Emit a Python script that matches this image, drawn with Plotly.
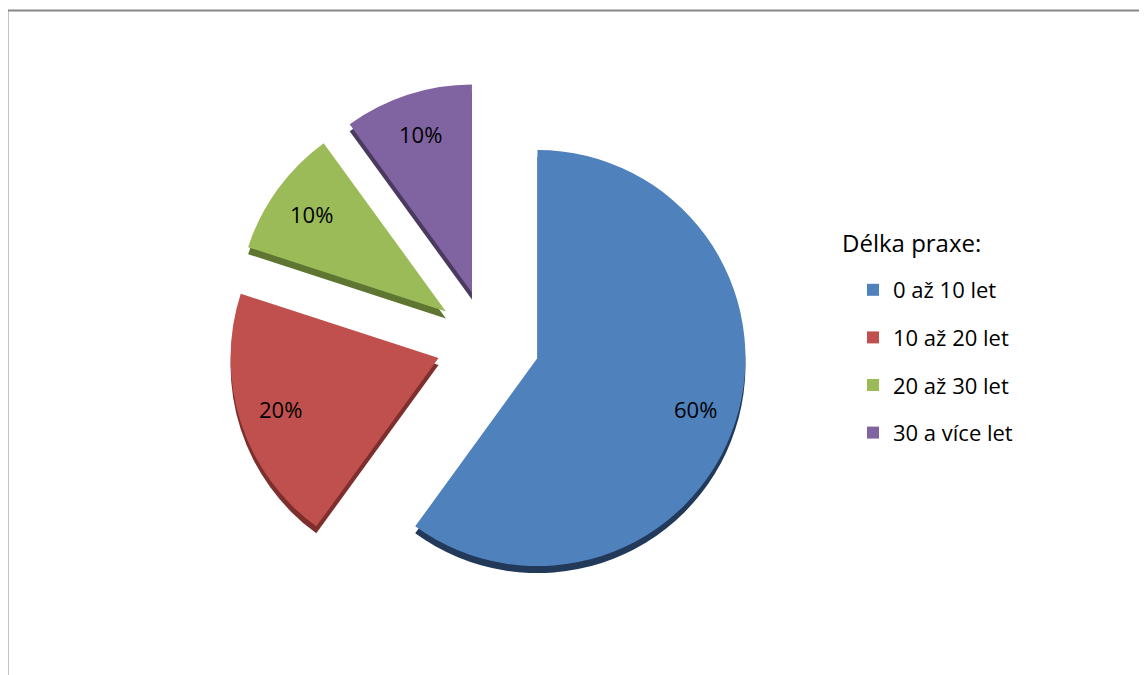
import math
import plotly.graph_objects as go

labels = ["0 až 10 let", "10 až 20 let", "20 až 30 let", "30 a více let"]
values = [60, 20, 10, 10]
colors = ["#4F81BD", "#C0504D", "#9BBB59", "#8064A2"]
side_colors = ["#22395A", "#7D2F2D", "#5F7632", "#4A3A60"]
legend_title = "Délka praxe:"

FONT = "Open Sans"
W, H = 1139, 667          # page body has an 8px margin
OFF = 8
PULL = 0.25
DEPTH = 7                 # px, visible 3D side below the top face


def fx(p):
    return (p - OFF) / W


def fy(p):
    return 1 - (p - OFF) / H


dom_x = [fx(228), fx(748)]
dom_y = [fy(602), fy(82)]
side_dom_y = [fy(602 + DEPTH), fy(82 + DEPTH)]

fig = go.Figure()
# darker copy below: the slice sides of the 3D pie
fig.add_trace(go.Pie(
    labels=labels, values=values, sort=False, direction="clockwise", rotation=0,
    marker=dict(colors=side_colors, line=dict(width=0)),
    pull=[PULL] * len(values), textinfo="none",
    domain=dict(x=dom_x, y=side_dom_y),
    showlegend=False, hoverinfo="skip",
))
fig.add_trace(go.Pie(
    labels=labels, values=values, sort=False, direction="clockwise", rotation=0,
    marker=dict(colors=colors, line=dict(width=0)),
    pull=[PULL] * len(values),
    textinfo="none",
    domain=dict(x=dom_x, y=dom_y),
    showlegend=False, hoverinfo="label+percent",
))

# percent labels placed along each slice bisector (computed from the data)
total = sum(values)
cx = (dom_x[0] + dom_x[1]) / 2 * W
cy = (dom_y[0] + dom_y[1]) / 2 * H
r = min((dom_x[1] - dom_x[0]) * W, (dom_y[1] - dom_y[0]) * H) / (2 * (1 + PULL))
cum = 0
for v in values:
    mid = (cum + v / 2) / total * 2 * math.pi
    cum += v
    k = (PULL + 0.8) * r
    px = cx + k * math.sin(mid)
    py = cy + k * math.cos(mid)
    fig.add_annotation(text=f"{v / total:.0%}", xref="paper", yref="paper",
                       x=px / W, y=py / H, xanchor="center", yanchor="middle",
                       showarrow=False, font=dict(family=FONT, size=22, color="black"))

for i, (lab, col) in enumerate(zip(labels, colors)):
    fig.add_trace(go.Scatter(
        x=[None], y=[None], mode="markers", name=lab,
        marker=dict(symbol="square", size=12, color=col, line=dict(width=0)),
        legendgroup=f"g{i}", showlegend=True, hoverinfo="skip",
    ))

fig.add_annotation(text=legend_title, xref="paper", yref="paper",
                   x=fx(840), y=fy(243), xanchor="left", yanchor="middle",
                   showarrow=False, font=dict(family=FONT, size=24, color="black"))

fig.add_shape(type="rect", xref="paper", yref="paper",
              x0=fx(7.5), x1=fx(1145.5), y0=-0.1, y1=fy(10.5),
              line=dict(color="#888888", width=2), fillcolor="rgba(0,0,0,0)")

fig.update_layout(
    width=W, height=H, margin=dict(l=0, r=0, t=0, b=0),
    paper_bgcolor="white", plot_bgcolor="white",
    xaxis=dict(visible=False), yaxis=dict(visible=False),
    legend=dict(x=fx(853), y=fy(269), xanchor="left", yanchor="top",
                font=dict(family=FONT, size=22, color="black"),
                tracegroupgap=16, bgcolor="rgba(0,0,0,0)"),
)
fig.write_html("out.html")
